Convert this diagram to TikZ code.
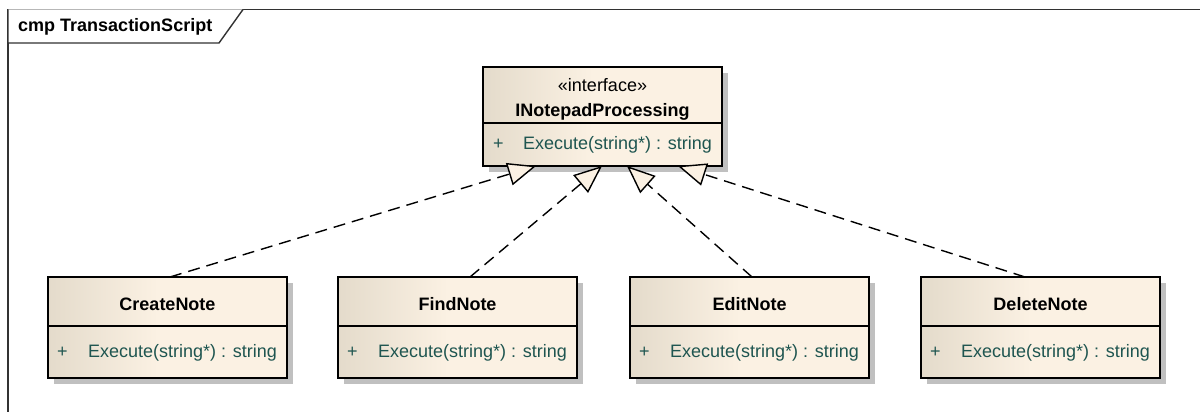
\documentclass[tikz,border=0pt]{standalone}
\usepackage{fontspec}
\setmainfont{Liberation Sans}
\usetikzlibrary{arrows.meta,shadows}
\definecolor{eaL}{RGB}{228,219,203}
\definecolor{eaR}{RGB}{251,241,227}
\definecolor{optext}{RGB}{30,85,80}
\definecolor{shadowc}{RGB}{192,192,192}
\definecolor{framec}{RGB}{50,50,50}
\pgfdeclarehorizontalshading{eabox}{100bp}{color(0bp)=(eaL); color(25bp)=(eaL); color(48bp)=(eaR); color(100bp)=(eaR)}
\tikzset{
  classbox/.style={draw=black, line width=1.5pt, shading=eabox, minimum width=239pt, minimum height=101pt,
    inner sep=0pt, outer sep=0pt, drop shadow={shadow xshift=6pt, shadow yshift=-6pt, fill=shadowc, opacity=1}},
  clsname/.style={anchor=base, inner sep=0pt, font=\bfseries\fontsize{18}{20}\selectfont},
  stereo/.style={anchor=base, inner sep=0pt, font=\fontsize{18}{20}\selectfont},
  optxt/.style={anchor=base west, inner sep=0pt, text=optext, font=\fontsize{18}{20}\selectfont},
  divider/.style={draw=black, line width=1.5pt},
  realize/.style={draw=black, line width=1.4pt, dash pattern=on 12pt off 7pt,
    -{Triangle[length=28pt, width=23pt, fill=eaR]}}
}
\begin{document}
\begin{tikzpicture}[x=1pt,y=-1pt]
\useasboundingbox[fill=white] (0,0) rectangle (1200,412);
% frame
\draw[framec, line width=1.4pt] (8,412) -- (8,9.5) -- (1200,9.5);
\draw[framec, line width=1.4pt, fill=white] (8,9.5) -- (8,43) -- (219,43) -- (243,9.5);
\node[anchor=base west, inner sep=0pt, font=\bfseries\fontsize{18}{20}\selectfont] (title) at (18,32) {cmp TransactionScript};
% interface
\node[classbox, minimum height=99pt] (ip) at (602.5,116.5) {};
\draw[divider] (483,123) -- (722,123);
\node[stereo] (ipst) at (602.5,92) {«interface»};
\node[clsname] (ipname) at (602.5,117) {INotepadProcessing};
\node[optxt] (ipplus) at (493,149) {+};
\node[optxt] (ipop) at (523,149) {Execute(string*) : string};
% CreateNote
\node[classbox] (cn) at (167.5,327.5) {};
\draw[divider] (48,326) -- (287,326);
\node[clsname] (cnname) at (167.5,310) {CreateNote};
\node[optxt] (cnplus) at (57,357) {+};
\node[optxt] (cnop) at (88,357) {Execute(string*) : string};
% FindNote
\node[classbox] (fn) at (457.5,327.5) {};
\draw[divider] (338,326) -- (577,326);
\node[clsname] (fnname) at (457.5,310) {FindNote};
\node[optxt] (fnplus) at (347,357) {+};
\node[optxt] (fnop) at (378,357) {Execute(string*) : string};
% EditNote
\node[classbox] (en) at (749.5,327.5) {};
\draw[divider] (630,326) -- (869,326);
\node[clsname] (enname) at (749.5,310) {EditNote};
\node[optxt] (enplus) at (639,357) {+};
\node[optxt] (enop) at (670,357) {Execute(string*) : string};
% DeleteNote
\node[classbox] (dn) at (1040.5,327.5) {};
\draw[divider] (921,326) -- (1160,326);
\node[clsname] (dnname) at (1040.5,310) {DeleteNote};
\node[optxt] (dnplus) at (930,357) {+};
\node[optxt] (dnop) at (961,357) {Execute(string*) : string};
% realizations
\draw[realize] ([xshift=2.5pt]cn.north) -- ([xshift=-66.5pt]ip.south);
\draw[realize] ([xshift=12.5pt]fn.north) -- ([xshift=-0.5pt]ip.south);
\draw[realize] ([xshift=2.5pt]en.north) -- ([xshift=24.5pt]ip.south);
\draw[realize] ([xshift=-15.5pt]dn.north) -- ([xshift=75.5pt]ip.south);
\end{tikzpicture}
\end{document}
